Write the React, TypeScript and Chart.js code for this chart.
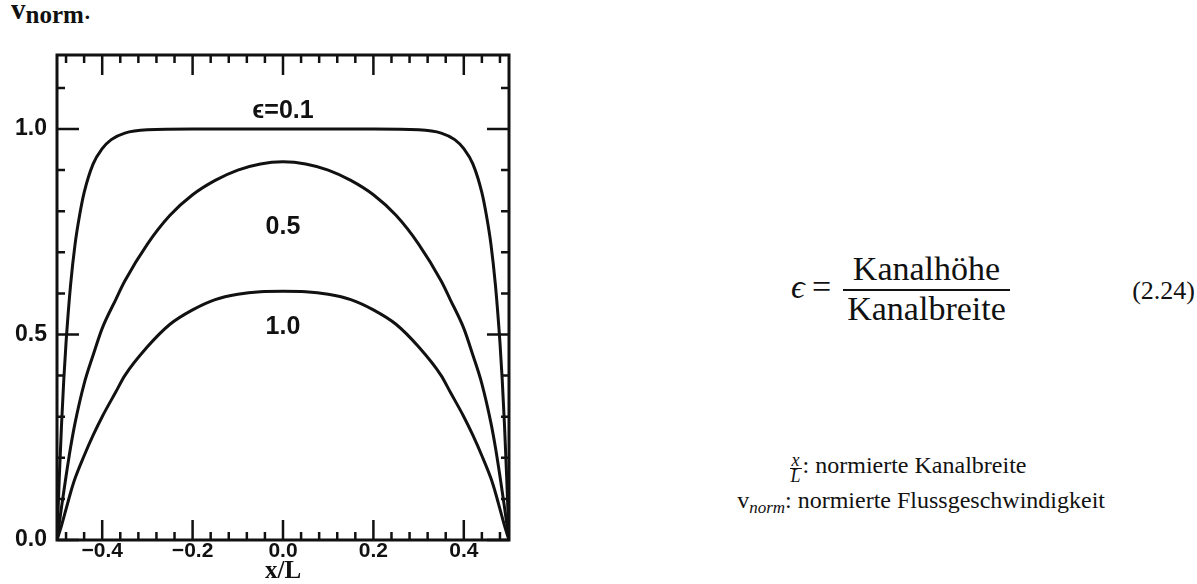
import React, { useEffect, useRef } from 'react';
import { Chart, registerables } from 'chart.js';

Chart.register(...registerables);

// Velocity profiles across the normalised channel width for three aspect ratios.
const eps01X = [-0.5, -0.495, -0.49, -0.485, -0.48, -0.47, -0.46, -0.45, -0.44, -0.42, -0.4, -0.38, -0.35, -0.3, -0.2, -0.1, 0, 0.1, 0.2, 0.3, 0.35, 0.38, 0.4, 0.42, 0.44, 0.45, 0.46, 0.47, 0.48, 0.485, 0.49, 0.495, 0.5];
const eps01Y = [0, 0.15, 0.28, 0.39, 0.48, 0.62, 0.72, 0.79, 0.845, 0.915, 0.952, 0.974, 0.99, 0.998, 1.0, 1.0, 1.0, 1.0, 1.0, 0.998, 0.99, 0.974, 0.952, 0.915, 0.845, 0.79, 0.72, 0.62, 0.48, 0.39, 0.28, 0.15, 0];

const eps05X = [-0.5, -0.49, -0.48, -0.47, -0.46, -0.44, -0.42, -0.4, -0.37, -0.35, -0.3, -0.25, -0.2, -0.15, -0.1, -0.05, 0, 0.05, 0.1, 0.15, 0.2, 0.25, 0.3, 0.35, 0.37, 0.4, 0.42, 0.44, 0.46, 0.47, 0.48, 0.49, 0.5];
const eps05Y = [0, 0.08, 0.155, 0.225, 0.285, 0.38, 0.45, 0.515, 0.585, 0.63, 0.72, 0.79, 0.84, 0.875, 0.9, 0.915, 0.92, 0.915, 0.9, 0.875, 0.84, 0.79, 0.72, 0.63, 0.585, 0.515, 0.45, 0.38, 0.285, 0.225, 0.155, 0.08, 0];

const eps10X = [-0.5, -0.49, -0.48, -0.47, -0.46, -0.44, -0.42, -0.4, -0.37, -0.35, -0.3, -0.25, -0.2, -0.15, -0.1, -0.05, 0, 0.05, 0.1, 0.15, 0.2, 0.25, 0.3, 0.35, 0.37, 0.4, 0.42, 0.44, 0.46, 0.47, 0.48, 0.49, 0.5];
const eps10Y = [0, 0.035, 0.075, 0.115, 0.15, 0.205, 0.255, 0.3, 0.36, 0.4, 0.47, 0.525, 0.56, 0.585, 0.598, 0.604, 0.605, 0.604, 0.598, 0.585, 0.56, 0.525, 0.47, 0.4, 0.36, 0.3, 0.255, 0.205, 0.15, 0.115, 0.075, 0.035, 0];

const seriesNames = ['ϵ=0.1', '0.5', '1.0'];

// Axis ticks and their labels.
const xMajorTicks = [-0.4, -0.2, 0, 0.2, 0.4];
const xTickLabels = ['−0.4', '−0.2', '0.0', '0.2', '0.4'];
const xMinorTicks = [-0.48, -0.44, -0.36, -0.32, -0.28, -0.24, -0.16, -0.12, -0.08, -0.04, 0.04, 0.08, 0.12, 0.16, 0.24, 0.28, 0.32, 0.36, 0.44, 0.48];
const yMajorTicks = [0, 0.5, 1.0];
const yTickLabels = ['0.0', '0.5', '1.0'];
const yMinorTicks = [0.1, 0.2, 0.3, 0.4, 0.6, 0.7, 0.8, 0.9, 1.1];

// Where each curve's name is written, in data coordinates.
const curveLabelAnchors = [
  { x: 0, y: 1.044 },
  { x: 0, y: 0.761 },
  { x: 0, y: 0.517 },
];

const INK = '#111';
const SANS = '"Liberation Sans", "DejaVu Sans", Arial, sans-serif';
const SERIF = '"Liberation Serif", "DejaVu Serif", "Times New Roman", serif';

const MAJOR_LEN = 20;
const MINOR_LEN = 8;

const frameAndTicks = {
  id: 'frameAndTicks',
  afterDatasetsDraw(chart: any) {
    const { ctx, chartArea: a, scales } = chart;
    const xs = scales.x;
    const ys = scales.y;
    ctx.save();
    ctx.strokeStyle = INK;
    ctx.lineCap = 'butt';
    ctx.lineWidth = 2.5;
    ctx.beginPath();
    const seg = (x1: number, y1: number, x2: number, y2: number) => {
      ctx.moveTo(x1, y1);
      ctx.lineTo(x2, y2);
    };
    const xTick = (v: number, len: number) => {
      const p = xs.getPixelForValue(v);
      seg(p, a.bottom, p, a.bottom - len);
      seg(p, a.top, p, a.top + len);
    };
    const yTick = (v: number, len: number) => {
      const p = ys.getPixelForValue(v);
      seg(a.left, p, a.left + len, p);
      seg(a.right, p, a.right - len, p);
    };
    xMajorTicks.forEach((v) => xTick(v, MAJOR_LEN));
    xMinorTicks.forEach((v) => xTick(v, MINOR_LEN));
    yMajorTicks.forEach((v) => yTick(v, MAJOR_LEN + 2));
    yMinorTicks.forEach((v) => yTick(v, MINOR_LEN));
    ctx.stroke();

    ctx.lineWidth = 3;
    ctx.strokeRect(a.left, a.top, a.right - a.left, a.bottom - a.top);

    ctx.fillStyle = INK;
    ctx.font = `bold 25px ${SANS}`;
    ctx.textAlign = 'center';
    ctx.textBaseline = 'middle';
    curveLabelAnchors.forEach((pos, i) => {
      ctx.fillText(seriesNames[i], xs.getPixelForValue(pos.x), ys.getPixelForValue(pos.y));
    });
    ctx.restore();
  },
};

function toPoints(xv: number[], yv: number[]) {
  return xv.map((x, i) => ({ x, y: yv[i] }));
}

function FlowChart() {
  const ref = useRef<HTMLCanvasElement | null>(null);

  useEffect(() => {
    if (!ref.current) return;
    const line = (label: string, xv: number[], yv: number[]) => ({
      label,
      data: toPoints(xv, yv),
      borderColor: INK,
      borderWidth: 3,
      pointRadius: 0,
      fill: false,
      cubicInterpolationMode: 'monotone' as const,
    });
    const chart = new Chart(ref.current, {
      type: 'line',
      data: {
        datasets: [
          line(seriesNames[0], eps01X, eps01Y),
          line(seriesNames[1], eps05X, eps05Y),
          line(seriesNames[2], eps10X, eps10Y),
        ],
      },
      options: {
        animation: false,
        responsive: false,
        devicePixelRatio: 1,
        layout: { padding: { left: 0, right: 51, top: 55, bottom: 0 } },
        plugins: { legend: { display: false }, tooltip: { enabled: false } },
        scales: {
          x: {
            type: 'linear',
            min: -0.5,
            max: 0.5,
            grid: { display: false, drawTicks: false },
            border: { display: false },
            afterBuildTicks: (s: any) => {
              s.ticks = xMajorTicks.map((value) => ({ value }));
            },
            afterFit: (s: any) => {
              s.height = 44;
            },
            ticks: {
              autoSkip: false,
              maxRotation: 0,
              padding: 1,
              color: INK,
              font: { family: SANS, size: 21, weight: 'bold', lineHeight: 1 },
              callback: (_v: any, i: number) => xTickLabels[i],
            },
            title: {
              display: true,
              text: 'x/L',
              color: INK,
              font: { family: SERIF, size: 25, weight: 'bold', lineHeight: 1 },
              padding: { top: 0, bottom: 0 },
            },
          },
          y: {
            type: 'linear',
            min: 0,
            max: 1.18,
            grid: { display: false, drawTicks: false },
            border: { display: false },
            afterBuildTicks: (s: any) => {
              s.ticks = yMajorTicks.map((value) => ({ value }));
            },
            afterFit: (s: any) => {
              s.width = 57;
            },
            ticks: {
              autoSkip: false,
              padding: 10,
              color: INK,
              font: { family: SANS, size: 23, weight: 'bold', lineHeight: 1 },
              callback: (_v: any, i: number) => yTickLabels[i],
            },
          },
        },
      } as any,
      plugins: [frameAndTicks],
    });
    return () => chart.destroy();
  }, []);

  return (
    <canvas
      ref={ref}
      width={560}
      height={584}
      style={{ position: 'absolute', left: 0, top: 0, width: 560, height: 584 }}
    />
  );
}

const textBase: React.CSSProperties = {
  position: 'absolute',
  fontFamily: SERIF,
  color: INK,
  whiteSpace: 'nowrap',
};

const eqText: React.CSSProperties = { ...textBase, fontSize: 34, lineHeight: '34px' };
const bodyText: React.CSSProperties = { ...textBase, fontSize: 24, lineHeight: '24px' };

export default function App() {
  return (
    <div style={{ position: 'fixed', left: 0, top: 0, width: 1197, height: 584, background: '#fff', overflow: 'hidden' }}>
      {/* caption fragment above the plot */}
      <div style={{ ...textBase, left: 11, top: -7, fontSize: 29, lineHeight: '32px' }}>
        <b>v</b>
        <b style={{ fontSize: 25, position: 'relative', top: 4 }}>norm</b>.
      </div>

      <FlowChart />

      {/* definition of the aspect ratio */}
      <div style={{ ...eqText, left: 791, top: 270, fontStyle: 'italic' }}>ϵ</div>
      <div style={{ ...eqText, left: 812, top: 270 }}>=</div>
      <div style={{ ...eqText, left: 843, top: 252, width: 167, textAlign: 'center' }}>Kanalhöhe</div>
      <div style={{ position: 'absolute', left: 843, top: 289, width: 167, height: 2, background: INK }} />
      <div style={{ ...eqText, left: 843, top: 292, width: 167, textAlign: 'center' }}>Kanalbreite</div>
      <div style={{ ...textBase, fontSize: 26, lineHeight: '26px', left: 1095, top: 278, width: 100, textAlign: 'right' }}>(2.24)</div>

      {/* legend of the quantities */}
      <div style={{ ...bodyText, left: 658, top: 453, width: 500, textAlign: 'center' }}>
        <span
          style={{
            display: 'inline-flex',
            flexDirection: 'column',
            alignItems: 'center',
            fontStyle: 'italic',
            fontSize: 18,
            lineHeight: '13px',
            verticalAlign: '7px',
            marginRight: 1,
          }}
        >
          <span style={{ borderBottom: `1.3px solid ${INK}`, padding: '0 2px 1px' }}>x</span>
          <span style={{ paddingTop: 1 }}>L</span>
        </span>
        : normierte Kanalbreite
      </div>
      <div style={{ ...bodyText, left: 605, top: 488, width: 500, textAlign: 'right' }}>
        v<span style={{ fontStyle: 'italic', fontSize: 17, position: 'relative', top: 5 }}>norm</span>: normierte Flussgeschwindigkeit
      </div>
    </div>
  );
}
